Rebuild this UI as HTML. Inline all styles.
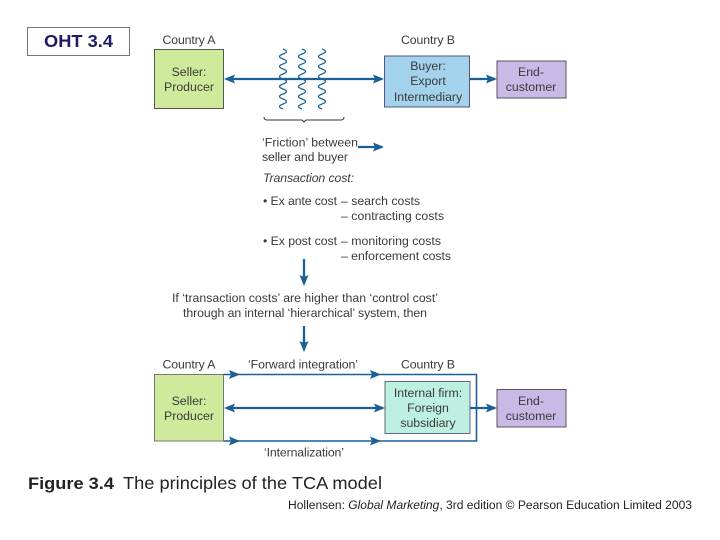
<!DOCTYPE html>
<html>
<head>
<meta charset="utf-8">
<style>
html,body{margin:0;padding:0;background:#fff;width:720px;height:540px;overflow:hidden}
svg{display:block;filter:blur(0.35px)}
text{font-family:"Liberation Sans",sans-serif;font-size:12.3px;fill:#3a3a3a}
.m{text-anchor:middle}
.w{fill:none;stroke:#1d6496;stroke-width:1.3}
.l{fill:none;stroke:#1a5f96;stroke-width:2.3}
.t{fill:none;stroke:#1a5f96;stroke-width:1.6}
.h{fill:#1a5f96}
</style>
</head>
<body>
<svg width="720" height="540" viewBox="0 0 720 540" xmlns="http://www.w3.org/2000/svg">
<defs>
<path id="wave" d="M-1 0q7 2.500 0 5t0 5q7 2.500 0 5t0 5q7 2.500 0 5t0 5q7 2.500 0 5t0 5q7 2.500 0 5t0 5q7 2.500 0 5t0 5"/>
</defs>
<rect x="27.500" y="27.500" width="102" height="28" fill="#fff" stroke="#777" stroke-width="1"/>
<text x="44" y="47" textLength="69" lengthAdjust="spacingAndGlyphs" style="font-size:17.500px;font-weight:bold;fill:#1c1c60">OHT 3.4</text>

<text x="189" y="44" class="m" textLength="53">Country A</text>
<text x="428" y="44" class="m" textLength="54">Country B</text>

<rect x="154.500" y="49.500" width="69" height="59" fill="#cdeb9b" stroke="#555"/>
<text x="189" y="76" class="m">Seller:</text>
<text x="189" y="91" class="m">Producer</text>

<rect x="384.500" y="56" width="85" height="51" fill="#a3d2ec" stroke="#557"/>
<text x="428" y="70" class="m">Buyer:</text>
<text x="428" y="85" class="m">Export</text>
<text x="428" y="101" class="m">Intermediary</text>

<rect x="497" y="61" width="69" height="37" fill="#c9b9e6" stroke="#555"/>
<text x="531" y="76" class="m">End-</text>
<text x="531" y="91" class="m">customer</text>

<use href="#wave" x="284" y="49" class="w"/>
<use href="#wave" x="303" y="49" class="w"/>
<use href="#wave" x="323" y="49" class="w"/>

<path class="l" d="M226 79H382"/>
<path class="h" d="M224 79l11-4.500-2 4.500 2 4.500z"/>
<path class="h" d="M384 79l-11-4.500 2 4.500-2 4.500z"/>
<path class="l" d="M470 79H495"/>
<path class="h" d="M497 79l-11-4.500 2 4.500-2 4.500z"/>

<path d="M264 117q0 3 3 3H302l2 2 2-2H341q3 0 3-3" fill="none" stroke="#333" stroke-width="1"/>

<text x="262" y="146.500" textLength="96">‘Friction’ between</text>
<text x="262" y="161" textLength="86">seller and buyer</text>
<path class="l" d="M358 147H382"/>
<path class="h" d="M384 147l-11-4.500 2 4.500-2 4.500z"/>

<text x="263" y="182" font-style="italic" textLength="91">Transaction cost:</text>
<text x="263" y="205" textLength="74">• Ex ante cost</text>
<text x="341" y="205" textLength="79">– search costs</text>
<text x="341" y="220" textLength="103">– contracting costs</text>
<text x="263" y="245" textLength="74">• Ex post cost</text>
<text x="341" y="245" textLength="100">– monitoring costs</text>
<text x="341" y="260" textLength="110">– enforcement costs</text>

<path class="l" d="M304 259V284"/>
<path class="h" d="M304 286l-4.500-11 4.500 2 4.500-2z"/>
<text x="172" y="302" textLength="266">If ‘transaction costs’ are higher than ‘control cost’</text>
<text x="183" y="317" textLength="244">through an internal ‘hierarchical’ system, then</text>
<path class="l" d="M304 326V350"/>
<path class="h" d="M304 352l-4.500-11 4.500 2 4.500-2z"/>

<text x="189" y="368.500" class="m" textLength="53">Country A</text>
<text x="303" y="368.500" class="m" textLength="110">‘Forward integration’</text>
<text x="428" y="368.500" class="m" textLength="54">Country B</text>

<path class="t" d="M223 374.500H476.500V441H223"/>
<path class="h" d="M240 374.500l-11-4.500 2 4.500-2 4.500z"/>
<path class="h" d="M381 374.500l-11-4.500 2 4.500-2 4.500z"/>
<path class="h" d="M240 441l-11-4.500 2 4.500-2 4.500z"/>
<path class="h" d="M381 441l-11-4.500 2 4.500-2 4.500z"/>

<rect x="154.500" y="374.500" width="69" height="66.500" fill="#cdeb9b" stroke="#777"/>
<text x="189" y="405" class="m">Seller:</text>
<text x="189" y="420" class="m">Producer</text>

<rect x="385" y="381.500" width="85" height="52" fill="#bdf0e0" stroke="#667"/>
<text x="428" y="397" class="m">Internal firm:</text>
<text x="428" y="412" class="m">Foreign</text>
<text x="428" y="427" class="m">subsidiary</text>

<rect x="497" y="389.500" width="69" height="37.500" fill="#c9b9e6" stroke="#555"/>
<text x="531" y="405" class="m">End-</text>
<text x="531" y="420" class="m">customer</text>

<path class="l" d="M226 408H383"/>
<path class="h" d="M224 408l11-4.500-2 4.500 2 4.500z"/>
<path class="h" d="M385 408l-11-4.500 2 4.500-2 4.500z"/>
<path class="l" d="M470 408H495"/>
<path class="h" d="M497 408l-11-4.500 2 4.500-2 4.500z"/>

<text x="304" y="456.500" class="m" textLength="80">‘Internalization’</text>

<text x="28" y="489" textLength="86" lengthAdjust="spacingAndGlyphs" style="font-size:17px;font-weight:bold;fill:#222">Figure 3.4</text>
<text x="123" y="489" textLength="259" lengthAdjust="spacingAndGlyphs" style="font-size:17.500px;fill:#222">The principles of the TCA model</text>
<text x="288" y="509" textLength="404" lengthAdjust="spacingAndGlyphs" style="font-size:12.300px;fill:#222">Hollensen: <tspan font-style="italic">Global Marketing</tspan>, 3rd edition © Pearson Education Limited 2003</text>
</svg>
</body>
</html>
